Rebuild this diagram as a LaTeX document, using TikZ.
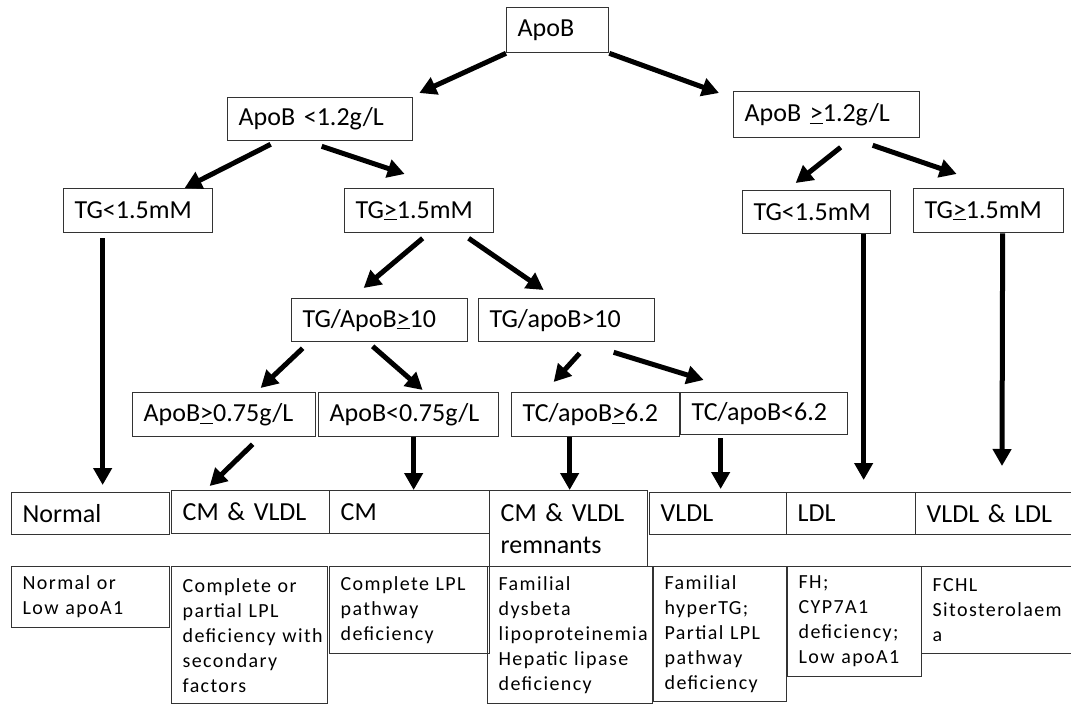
\documentclass[tikz,border=0pt]{standalone}
\usepackage{fontspec}
\setmainfont{Carlito}
\newfontfamily\spacedfont[LetterSpace=7]{Carlito}
\usetikzlibrary{arrows.meta}

\begin{document}
\begin{tikzpicture}[
        x=1pt, y=-1pt,
        test/.style={rectangle, draw=black!80, line width=1.3pt, anchor=north west, align=left, inner xsep=11pt, inner ysep=3pt, font=\fontsize{26}{31.7}\selectfont},
        lipid/.style={test},
        cause/.style={test, inner ysep=9pt, font=\spacedfont\fontsize{20}{25}\selectfont},
        arrow/.style={-{Triangle[length=17pt, width=18pt]}, line width=5pt, black}
    ]
        \useasboundingbox (0,0) rectangle (1071,704);

        \node[test, text width=80pt, minimum height=45pt] (apob) at (506,7) {ApoB};
        \node[test, text width=163pt, minimum height=43pt] (apoblo) at (227,97) {ApoB <1.2g/L};
        \node[test, text width=164pt, minimum height=46pt] (apobhi) at (733,91) {ApoB \underline{>}1.2g/L};
        \node[test, text width=127pt, minimum height=44pt] (tglo) at (63,188) {TG<1.5mM};
        \node[test, text width=127pt, minimum height=44pt] (tghi) at (344,188) {TG\underline{>}1.5mM};
        \node[test, text width=126pt, minimum height=43pt] (tglo2) at (742,190) {TG<1.5mM};
        \node[test, text width=128pt, minimum height=44pt] (tghi2) at (913,188) {TG\underline{>}1.5mM};
        \node[test, text width=154pt, minimum height=43pt] (ratiohi) at (291,298) {TG/ApoB\underline{>}10};
        \node[test, text width=154pt, minimum height=43pt] (ratiolo) at (478,298) {TG/apoB>10};
        \node[test, text width=161pt, minimum height=44pt] (apobA) at (132,392) {ApoB\underline{>}0.75g/L};
        \node[test, text width=158pt, minimum height=44pt] (apobB) at (318,392) {ApoB<0.75g/L};
        \node[test, text width=146pt, minimum height=44pt] (tchi) at (511,392) {TC/apoB\underline{>}6.2};
        \node[test, text width=145pt, minimum height=42pt] (tclo) at (680,392) {TC/apoB<6.2};

        \node[lipid, text width=136pt, minimum height=42pt] (normal) at (11,492) {Normal};
        \node[lipid, text width=136pt, minimum height=43pt] (cmvldl) at (171,490) {CM \& VLDL};
        \node[lipid, text width=138pt, minimum height=43pt] (cm) at (329,490) {CM};
        \node[lipid, text width=136pt, minimum height=76pt] (remn) at (489,490) {CM \& VLDL\\remnants};
        \node[lipid, text width=115pt, minimum height=42pt] (vldl) at (649,492) {VLDL};
        \node[lipid, text width=107pt, minimum height=42pt] (ldl) at (786,492) {LDL};
        \node[lipid, text width=150pt, minimum height=42pt] (vldlldl) at (915,492) {VLDL \& LDL};

        \node[cause, text width=136pt, minimum height=61pt] (c1) at (11,566) {Normal or\\Low apoA1};
        \node[cause, text width=134pt, minimum height=137pt] (c2) at (171,566) {Complete or\\partial LPL\\deficiency~with\\secondary\\factors};
        \node[cause, text width=138pt, minimum height=87pt] (c3) at (329,566) {Complete LPL\\pathway\\deficiency};
        \node[cause, text width=143pt, minimum height=137pt] (c4) at (487,566) {Familial\\dysbeta\\lipoproteinemia\\Hepatic lipase\\deficiency};
        \node[cause, text width=111pt, minimum height=135pt] (c5) at (653,566) {Familial\\hyperTG;\\Partial LPL\\pathway\\deficiency};
        \node[cause, text width=112pt, minimum height=110pt] (c6) at (787,566) {FH;\\CYP7A1\\deficiency;\\Low apoA1};
        \node[cause, text width=138pt, minimum height=87pt] (c7) at (921,566) {FCHL\\Sitosterolaem\\a};

        \draw[arrow] (apob.south west) -- ([xshift=6pt,yshift=4pt]apoblo.north east);
        \draw[arrow] (apob.south east) -- ([xshift=-14pt,yshift=-2pt]apobhi.north west);
        \draw[arrow] ([xshift=-49.5pt,yshift=-3pt]apoblo.south) -- ([xshift=46.5pt]tglo.north);
        \draw[arrow] ([xshift=1.5pt,yshift=-5pt]apoblo.south) -- ([xshift=-14.5pt,yshift=14pt]tghi.north);
        \draw[arrow] ([xshift=14pt,yshift=-9pt]apobhi.south) -- ([xshift=-21pt,yshift=7pt]tglo2.north);
        \draw[arrow] ([xshift=46pt,yshift=-7pt]apobhi.south) -- ([xshift=-32pt,yshift=14pt]tghi2.north);
        \draw[arrow] ([xshift=3.5pt,yshift=-5pt]tghi.south) -- ([xshift=-16pt,yshift=10pt]ratiohi.north);
        \draw[arrow] ([xshift=49.5pt,yshift=-5pt]tghi.south) -- ([xshift=-23pt,yshift=8pt]ratiolo.north);
        \draw[arrow] ([xshift=-77pt,yshift=-6pt]ratiohi.south) -- ([xshift=36.5pt,yshift=4pt]apobA.north);
        \draw[arrow] ([xshift=-7pt,yshift=-4pt]ratiohi.south) -- ([xshift=14pt,yshift=2pt]apobB.north);
        \draw[arrow] ([xshift=13pt,yshift=-11pt]ratiolo.south) -- ([xshift=-42pt,yshift=10pt]tchi.north);
        \draw[arrow] ([xshift=47pt,yshift=-10pt]ratiolo.south) -- ([xshift=-60.5pt,yshift=12pt]tclo.north);
        \draw[arrow] ([xshift=-35.5pt,yshift=-5pt]tglo.south) -- ([xshift=12pt,yshift=7pt]normal.north);
        \draw[arrow] ([xshift=28.5pt,yshift=-7pt]apobA.south) -- ([xshift=-41pt,yshift=4pt]cmvldl.north);
        \draw[arrow] ([xshift=5pt]apobB.south) -- ([xshift=4pt]cm.north);
        \draw[arrow] ([xshift=-26pt]tchi.south) -- ([xshift=1pt]remn.north);
        \draw[arrow] ([xshift=-43.5pt,yshift=-3pt]tclo.south) -- ([xshift=2.5pt,yshift=3pt]vldl.north);
        \draw[arrow] ([xshift=47pt]tglo2.south) -- ([xshift=12.5pt,yshift=12pt]ldl.north);
        \draw[arrow] ([xshift=14pt]tghi2.south) -- ([xshift=87pt,yshift=26pt]vldlldl.north west);
    \end{tikzpicture}
\end{document}
